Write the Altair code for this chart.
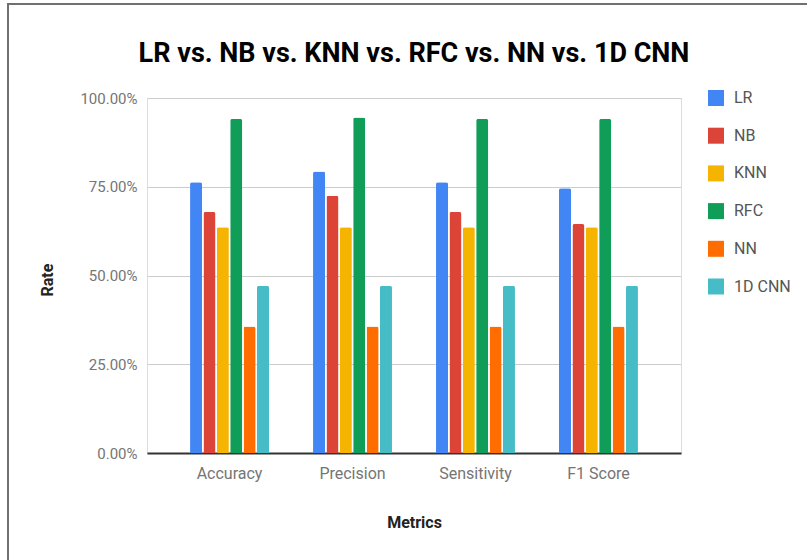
import altair as alt
import pandas as pd

# Classifier comparison across four evaluation metrics (values in percent)
metrics = ["Accuracy", "Precision", "Sensitivity", "F1 Score"]
models = ["LR", "NB", "KNN", "RFC", "NN", "1D CNN"]
colors = ["#4285F4", "#DB4437", "#F4B400", "#0F9D58", "#FF6D00", "#46BDC6"]
title_text = "LR vs. NB vs. KNN vs. RFC vs. NN vs. 1D CNN"

lr_scores = [76.3, 79.3, 76.3, 74.6]
nb_scores = [67.9, 72.5, 67.9, 64.5]
knn_scores = [63.6, 63.6, 63.6, 63.6]
rfc_scores = [94.1, 94.5, 94.1, 94.1]
nn_scores = [35.6, 35.6, 35.6, 35.6]
cnn_scores = [47.1, 47.1, 47.1, 47.1]

series = [lr_scores, nb_scores, knn_scores, rfc_scores, nn_scores, cnn_scores]
rows = []
for model, scores in zip(models, series):
    for metric, score in zip(metrics, scores):
        rows.append({"Metric": metric, "Model": model, "Rate": score / 100.0})
df = pd.DataFrame(rows)

FONT = "Roboto"
W, H = 534, 355

bars = (
    alt.Chart(df)
    .mark_bar(cornerRadiusTopLeft=2, cornerRadiusTopRight=2)
    .encode(
        x=alt.X(
            "Metric:N",
            sort=metrics,
            scale=alt.Scale(paddingInner=0.358, paddingOuter=0.35),
            axis=alt.Axis(
                title="Metrics",
                titleFont=FONT,
                titleFontSize=16,
                titleFontWeight="bold",
                titleColor="#222222",
                titleX=W / 2,
                titleY=69,
                titleBaseline="middle",
                labelFont=FONT,
                labelFontSize=16,
                labelColor="#757575",
                labelPadding=12,
                labelAngle=0,
                ticks=False,
                domainColor="#333333",
                domainWidth=2,
                grid=False,
            ),
        ),
        xOffset=alt.XOffset(
            "Model:N", sort=models, scale=alt.Scale(paddingInner=0.1, paddingOuter=0)
        ),
        y=alt.Y(
            "Rate:Q",
            scale=alt.Scale(domain=[0, 1], nice=False),
            axis=alt.Axis(
                title="Rate",
                titleFont=FONT,
                titleFontSize=16,
                titleFontWeight="bold",
                titleColor="#222222",
                titleX=-95,
                titleY=H / 2 + 4,
                titleBaseline="alphabetic",
                format=".2%",
                values=[0, 0.25, 0.5, 0.75, 1.0],
                labelFont=FONT,
                labelFontSize=15,
                labelColor="#757575",
                labelPadding=10,
                ticks=False,
                domain=False,
                gridColor="#cccccc",
                gridWidth=1,
            ),
        ),
        color=alt.Color(
            "Model:N",
            sort=models,
            scale=alt.Scale(domain=models, range=colors),
            legend=alt.Legend(
                title=None,
                orient="none",
                legendX=561,
                legendY=-8,
                symbolType="square",
                symbolSize=256,
                symbolStrokeWidth=0,
                labelFont=FONT,
                labelFontSize=16,
                labelColor="#555555",
                labelOffset=10,
                rowPadding=21.7,
                padding=0,
            ),
        ),
    )
)

single = alt.Data(values=[{"title": title_text}])

# Chart heading, centred over the plot area
heading = alt.Chart(single).mark_text(
    font=FONT,
    fontSize=27,
    fontWeight="bold",
    color="#000000",
    align="center",
    baseline="alphabetic",
).encode(text="title:N", x=alt.value(W / 2), y=alt.value(-36))

# Thin frame along the top and left edges of the canvas
left_edge = alt.Chart(single).mark_rule(color="#707070", strokeWidth=2).encode(
    x=alt.value(-139), y=alt.value(-95), y2=alt.value(470)
)
top_edge = alt.Chart(single).mark_rule(color="#707070", strokeWidth=2).encode(
    x=alt.value(-140), x2=alt.value(660), y=alt.value(-94)
)

chart = (
    alt.layer(bars, heading, left_edge, top_edge)
    .properties(
        width=W,
        height=H,
        autosize=alt.AutoSizeParams(type="none"),
        padding={"left": 147, "top": 98, "right": 807 - 147 - W, "bottom": 560 - 98 - H},
    )
    .configure_view(stroke="transparent", strokeWidth=0)
    .configure(background="white")
)

chart.save("out.html", embed_options={"renderer": "svg", "actions": False})
